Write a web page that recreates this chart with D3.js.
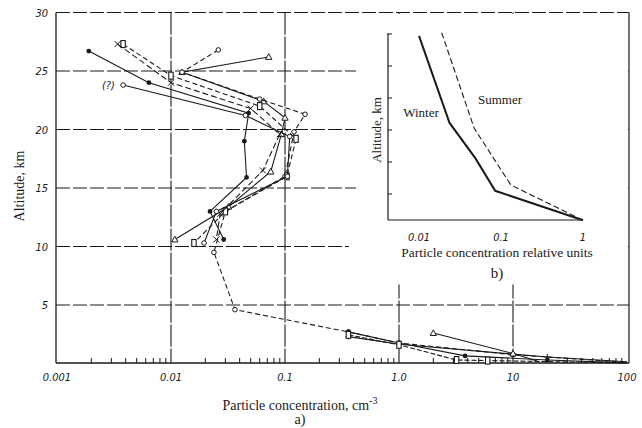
<!DOCTYPE html>
<html><head><meta charset="utf-8">
<script src="https://cdn.jsdelivr.net/npm/d3@7"></script>
<style>body{margin:0;background:#fff}svg{display:block}</style>
</head><body>
<svg id="c" width="642" height="428"></svg>
<script>
// ---------- data ----------
const xTickValues = [0.001, 0.01, 0.1, 1, 10, 100];
const xTickLabels = ["0.001", "0.01", "0.1", "1.0", "10", "100"];
const yTickValues = [5, 10, 15, 20, 25, 30];
const yTickLabels = ["5", "10", "15", "20", "25", "30"];

// stratospheric / full profiles (concentration cm^-3, altitude km)
const s1Conc = [0.0019, 0.0064, 0.048, 0.044, 0.046, 0.022, 0.029];
const s1Alt  = [26.7, 24.0, 21.4, 19.0, 15.9, 13.0, 10.6];
const s2Conc = [0.072, 0.0125, 0.065, 0.10, 0.093, 0.075, 0.032, 0.0108];
const s2Alt  = [26.2, 24.9, 22.4, 21.0, 19.6, 16.4, 13.4, 10.6];
const s3Conc = [0.026, 0.0125, 0.06, 0.15, 0.12, 0.10, 0.03, 0.0238, 0.0364, 0.36, 1.0, 10, 100];
const s3Alt  = [26.8, 24.9, 22.6, 21.3, 19.8, 16.0, 13.0, 9.5, 4.6, 2.7, 1.75, 0.75, 0.1];
const s4Conc = [0.0038, 0.01, 0.06, 0.125, 0.104, 0.03, 0.0159];
const s4Alt  = [27.3, 24.6, 22.0, 19.2, 16.0, 13.0, 10.3];
const s5Conc = [0.0034, 0.01, 0.05, 0.09, 0.064, 0.027, 0.025];
const s5Alt  = [27.3, 24.0, 21.8, 19.6, 16.5, 12.8, 10.6];
const s6Conc = [0.0038, 0.045, 0.11, 0.105, 0.025, 0.0195];
const s6Alt  = [23.8, 21.2, 19.4, 16.0, 13.0, 10.3];
// tropospheric profiles
const t1Conc = [0.36, 1.0, 3.8, 20, 100];
const t1Alt  = [2.7, 1.75, 0.65, 0.3, 0.05];
const t2Conc = [0.36, 1.0, 10, 20, 100];
const t2Alt  = [2.3, 1.65, 0.8, 0.55, 0.15];
const t3Conc = [2.0, 10, 17];
const t3Alt  = [2.6, 0.85, 0.15];
const t4Conc = [0.36, 1.0, 3.2, 6, 100];
const t4Alt  = [2.45, 1.6, 0.3, 0.25, 0.05];

// inset (relative units)
const insetXTicks = [0.01, 0.1, 1];
const insetXLabels = ["0.01", "0.1", "1"];
const insetYTicks = [5, 10, 15, 20, 25, 30];
const winterConc = [0.01, 0.0236, 0.0486, 0.085, 1.0];
const winterAlt  = [29.7, 16.1, 10.6, 5.5, 0.9];
const summerConc = [0.0189, 0.047, 0.132, 1.0];
const summerAlt  = [30.2, 15.3, 6.4, 0.9];

// ---------- drawing ----------
const svg = d3.select("#c");
const ink = "#1a1a1a";
const x = d3.scaleLog().domain([0.001, 100]).range([57, 627]);
const y = d3.scaleLinear().domain([0, 30]).range([363.5, 12.5]);
const x0 = 56, x1 = 629, yb = 363, yt = y(30);

// grid
const grid = svg.append("g").attr("stroke", ink).attr("fill", "none");
xTickValues.slice(1, 5).forEach(v => {
  grid.append("line").attr("x1", x(v)).attr("x2", x(v)).attr("y1", yt).attr("y2", yb)
    .attr("stroke-width", 1.1).attr("stroke-dasharray", "22,2");
});
yTickValues.forEach(v => {
  grid.append("line").attr("x1", x0).attr("x2", x1).attr("y1", y(v)).attr("y2", y(v))
    .attr("stroke-width", 1.2).attr("stroke-dasharray", "14,3");
});
// inset white area
svg.append("rect").attr("x", 356).attr("y", yt + 1.5).attr("width", x1 - 357).attr("height", 283 - yt)
  .attr("fill", "#fff");
// line 10 km shorter
svg.append("rect").attr("x", 349).attr("y", y(10) - 2).attr("width", 8).attr("height", 4).attr("fill", "#fff");

// frame
grid.append("line").attr("x1", x0).attr("x2", x0).attr("y1", yt).attr("y2", yb).attr("stroke-width", 1.3);
grid.append("line").attr("x1", x0).attr("x2", x1).attr("y1", yb).attr("y2", yb).attr("stroke-width", 1.3);
grid.append("line").attr("x1", x1).attr("x2", x1).attr("y1", yt).attr("y2", yb).attr("stroke-width", 1.2);

// minor ticks on x axis
const minor = [];
for (let d = -3; d < 2; d++) for (let k = 2; k <= 9; k++) minor.push(k * Math.pow(10, d));
svg.append("g").selectAll("line").data(minor).join("line")
  .attr("x1", d => x(d)).attr("x2", d => x(d)).attr("y1", yb).attr("y2", yb - 5)
  .attr("stroke", ink).attr("stroke-width", 1);

// tick labels
const tickFont = "'DejaVu Sans Condensed','DejaVu Sans',sans-serif";
svg.append("g").selectAll("text").data(xTickValues).join("text")
  .attr("x", d => x(d)).attr("y", 381).attr("text-anchor", "middle")
  .attr("font-family", tickFont).attr("font-style", "italic").attr("font-size", 11).attr("fill", ink)
  .text((d, i) => xTickLabels[i]);
svg.append("g").selectAll("text").data(yTickValues).join("text")
  .attr("x", 48).attr("y", d => y(d) + 4).attr("text-anchor", "end")
  .attr("font-family", tickFont).attr("font-style", "italic").attr("font-size", 11).attr("fill", ink)
  .text((d, i) => yTickLabels[i]);

// axis titles
const serif = "'Liberation Serif','DejaVu Serif',serif";
svg.append("text").attr("transform", "translate(24,186) rotate(-90)").attr("text-anchor", "middle")
  .attr("font-family", serif).attr("font-size", 14).attr("fill", ink).text("Altitude, km");
const xt = svg.append("text").attr("x", 300).attr("y", 410).attr("text-anchor", "middle")
  .attr("font-family", serif).attr("font-size", 14).attr("fill", ink);
xt.append("tspan").text("Particle concentration, cm");
xt.append("tspan").attr("dy", -6).attr("font-size", 10).text("-3");
svg.append("text").attr("x", 300).attr("y", 424).attr("text-anchor", "middle")
  .attr("font-family", serif).attr("font-size", 14).attr("fill", ink).text("a)");

// series
const line = d3.line().x(d => x(d[0])).y(d => y(d[1]));
const zip = (a, b) => a.map((v, i) => [v, b[i]]);
const series = [
  {c: s1Conc, a: s1Alt, m: "fcircle", dash: null},
  {c: s2Conc, a: s2Alt, m: "triangle", dash: null},
  {c: s3Conc, a: s3Alt, m: "ocircle", dash: "5,3"},
  {c: s4Conc, a: s4Alt, m: "square", dash: "5,3"},
  {c: s5Conc, a: s5Alt, m: "cross", dash: "6,3"},
  {c: s6Conc, a: s6Alt, m: "ocircle", dash: null},
  {c: t1Conc, a: t1Alt, m: "fcircle", dash: null},
  {c: t2Conc, a: t2Alt, m: "plus", dash: null},
  {c: t3Conc, a: t3Alt, m: "triangle", dash: null},
  {c: t4Conc, a: t4Alt, m: "square", dash: "5,2"},
];
const sg = svg.append("g");
series.forEach(s => {
  const pts = zip(s.c, s.a);
  sg.append("path").attr("d", line(pts)).attr("fill", "none").attr("stroke", ink)
    .attr("stroke-width", 1.1).attr("stroke-dasharray", s.dash);
  pts.forEach(p => {
    const px = x(p[0]), py = y(p[1]);
    if (px > x1 - 3 || py > yb - 2) return;
    if (s.m === "fcircle") sg.append("circle").attr("cx", px).attr("cy", py).attr("r", 2.4).attr("fill", ink);
    else if (s.m === "ocircle") sg.append("circle").attr("cx", px).attr("cy", py).attr("r", 2.3).attr("fill", "#fff").attr("stroke", ink).attr("stroke-width", 1);
    else if (s.m === "triangle") sg.append("path").attr("d", `M${px},${py-3.2}L${px+3.2},${py+2.4}L${px-3.2},${py+2.4}Z`).attr("fill", "#fff").attr("stroke", ink).attr("stroke-width", 1);
    else if (s.m === "square") sg.append("rect").attr("x", px - 2.2).attr("y", py - 3.5).attr("width", 4.4).attr("height", 7).attr("fill", "#fff").attr("stroke", ink).attr("stroke-width", 1.1);
    else if (s.m === "cross") sg.append("path").attr("d", `M${px-3},${py-3}L${px+3},${py+3}M${px-3},${py+3}L${px+3},${py-3}`).attr("stroke", ink).attr("stroke-width", 1);
    else if (s.m === "plus") sg.append("path").attr("d", `M${px-3},${py}L${px+3},${py}M${px},${py-3}L${px},${py+3}`).attr("stroke", ink).attr("stroke-width", 1);
  });
});
svg.append("text").attr("x", 102).attr("y", 89).attr("font-family", tickFont).attr("font-style", "italic")
  .attr("font-size", 11).attr("fill", ink).text("(?)");

// ---------- inset ----------
const ix = d3.scaleLog().domain([0.01, 1]).range([419, 583]);
const iy = d3.scaleLinear().domain([0, 30]).range([226, 34]);
const ib = 220, il = 388, ir = 583;
const ig = svg.append("g");
ig.append("line").attr("x1", il).attr("x2", il).attr("y1", iy(30) - 1).attr("y2", ib).attr("stroke", ink).attr("stroke-width", 1.2);
ig.append("line").attr("x1", il).attr("x2", ir).attr("y1", ib).attr("y2", ib).attr("stroke", ink).attr("stroke-width", 1.2);
ig.selectAll(".yt").data(insetYTicks).join("line").attr("x1", il).attr("x2", il + 4)
  .attr("y1", d => iy(d)).attr("y2", d => iy(d)).attr("stroke", ink).attr("stroke-width", 1);
ig.selectAll(".xl").data(insetXTicks).join("text").attr("x", d => ix(d)).attr("y", 241)
  .attr("text-anchor", "middle").attr("font-family", tickFont).attr("font-style", "italic")
  .attr("font-size", 11).attr("fill", ink).text((d, i) => insetXLabels[i]);
const iline = d3.line().x(d => ix(d[0])).y(d => iy(d[1]));
ig.append("path").attr("d", iline(zip(winterConc, winterAlt))).attr("fill", "none").attr("stroke", ink).attr("stroke-width", 2);
ig.append("path").attr("d", iline(zip(summerConc, summerAlt))).attr("fill", "none").attr("stroke", ink)
  .attr("stroke-width", 1.1).attr("stroke-dasharray", "6,3");
ig.append("text").attr("transform", "translate(381,130) rotate(-90)").attr("text-anchor", "middle")
  .attr("font-family", serif).attr("font-size", 13).attr("fill", ink).text("Altitude, km");
ig.append("text").attr("x", 421).attr("y", 117).attr("text-anchor", "middle")
  .attr("font-family", serif).attr("font-size", 13).attr("fill", ink).text("Winter");
ig.append("text").attr("x", 500).attr("y", 104).attr("text-anchor", "middle")
  .attr("font-family", serif).attr("font-size", 13).attr("fill", ink).text("Summer");
ig.append("text").attr("x", 497).attr("y", 257).attr("text-anchor", "middle")
  .attr("font-family", serif).attr("font-size", 13.5).attr("fill", ink).text("Particle concentration relative units");
ig.append("text").attr("x", 497).attr("y", 278).attr("text-anchor", "middle")
  .attr("font-family", serif).attr("font-size", 15).attr("fill", ink).text("b)");
</script>
</body></html>
